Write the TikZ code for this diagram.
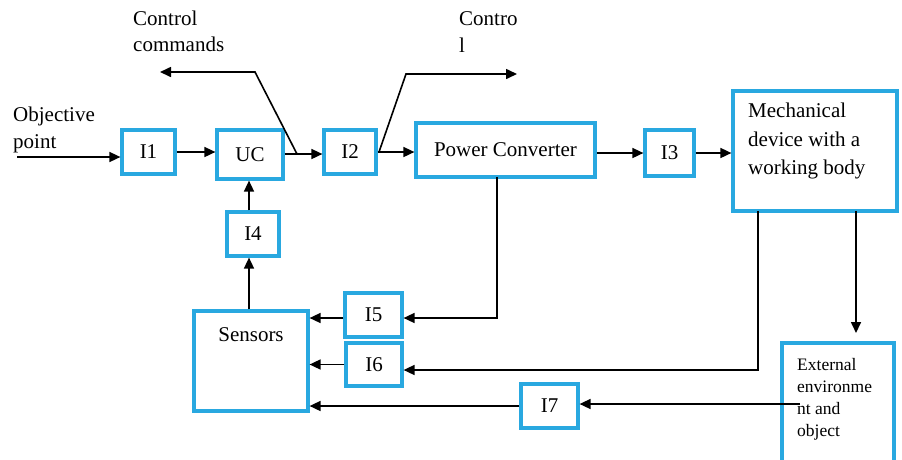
\documentclass[tikz,border=0pt]{standalone}
\usepackage{fontspec}
\setmainfont{Liberation Serif}
\usetikzlibrary{arrows.meta}
\definecolor{boxblue}{RGB}{41,168,224}
\begin{document}
\begin{tikzpicture}[x=1pt,y=-1pt,
  box/.style={draw=boxblue,line width=3.2pt,inner sep=0pt,font=\fontsize{21}{26}\selectfont},
  lbl/.style={inner sep=0pt,align=left,font=\fontsize{21}{26.5}\selectfont},
  arr/.style={line width=1.6pt,-{Triangle[length=11pt,width=10pt]}},
  ln/.style={line width=1.6pt}]
\useasboundingbox (0,0) rectangle (902,459);
% boxes
\node[box,minimum width=53pt,minimum height=44pt] (i1) at (148.5,152) {I1};
\node[box,minimum width=66pt,minimum height=49pt] (uc) at (250,154.5) {UC};
\node[box,minimum width=52pt,minimum height=44pt] (i2) at (350,152) {I2};
\node[box,minimum width=179pt,minimum height=54pt] (pc) at (505.5,150) {Power Converter};
\node[box,minimum width=49pt,minimum height=46pt] (i3) at (669.5,153) {I3};
\node[box,minimum width=164pt,minimum height=120pt] (mech) at (815,151) {};
\node[box,minimum width=52pt,minimum height=44pt] (i4) at (253,234) {I4};
\node[box,minimum width=114pt,minimum height=100pt] (sens) at (251,361) {};
\node[box,minimum width=57pt,minimum height=44pt] (i5) at (373.5,315) {I5};
\node[box,minimum width=56pt,minimum height=43pt] (i6) at (374,364.5) {I6};
\node[box,minimum width=57pt,minimum height=44pt] (i7) at (549.5,406) {I7};
\node[box,minimum width=112pt,minimum height=124pt] (ext) at (838,405) {};
% texts
\node[lbl,anchor=west] (tobj) at (13,130) {Objective\\point};
\node[lbl,anchor=west] (tcc) at (133,31.5) {Control\\commands};
\node[lbl,anchor=west] (tc) at (459,32) {Contro\\l};
\node[lbl,anchor=west,font=\fontsize{21}{28.5}\selectfont] (tmech) at (748,141) {Mechanical\\device with a\\working body};
\node[lbl] (tsens) at (251,335) {Sensors};
\node[lbl,anchor=west,font=\fontsize{17.5}{22}\selectfont] (text) at (797,399) {External\\environme\\nt and\\object};
% coordinates
\coordinate (obj) at (17,157);
\coordinate (j1) at (297,154);
\coordinate (cc1) at (255,72);
\coordinate (cc2) at (160,72);
\coordinate (j2) at (379,152);
\coordinate (c1) at (406,74);
\coordinate (c2) at (517,74);
\coordinate (pcd) at (497,177);
\coordinate (md1) at (758,211);
\coordinate (md2) at (856,211);
\coordinate (mend) at (856,333);
\coordinate (exs) at (800,404);
\coordinate (i5e) at ([yshift=-3pt]i5.east);
\coordinate (i5w) at ([yshift=-3pt]i5.west);
\coordinate (i6e) at ([yshift=-5.5pt]i6.east);
\coordinate (sn) at ([xshift=-2pt]sens.north);
\coordinate (i4n) at ([xshift=-4pt]i4.north);
% connectors
\draw[arr] (obj) -- (i1.west |- obj);
\draw[arr] (i1.east) -- (uc.west |- i1.east);
\draw[arr] (uc.east |- j1) -- (i2.west |- j1);
\draw[arr] (j1) -- (cc1) -- (cc2);
\draw[arr] (i2.east) -- (pc.west |- i2.east);
\draw[arr] (j2) -- (c1) -- (c2);
\draw[arr] (pc.east |- i3.west) -- (i3.west);
\draw[arr] (i3.east) -- (mech.west |- i3.east);
\draw[arr] (pcd) |- (i5e);
\draw[arr] (i5w) -- (sens.east |- i5w);
\draw[arr] (md1) |- (i6e);
\draw[arr] (i6.west) -- (sens.east |- i6.west);
\draw[arr] (md2) -- (mend);
\draw[arr] (exs) -- (i7.east |- exs);
\draw[arr] (i7.west) -- (sens.east |- i7.west);
\draw[arr] (sn) -- (sn |- i4.south);
\draw[arr] (i4n) -- (i4n |- uc.south);
\end{tikzpicture}
\end{document}
